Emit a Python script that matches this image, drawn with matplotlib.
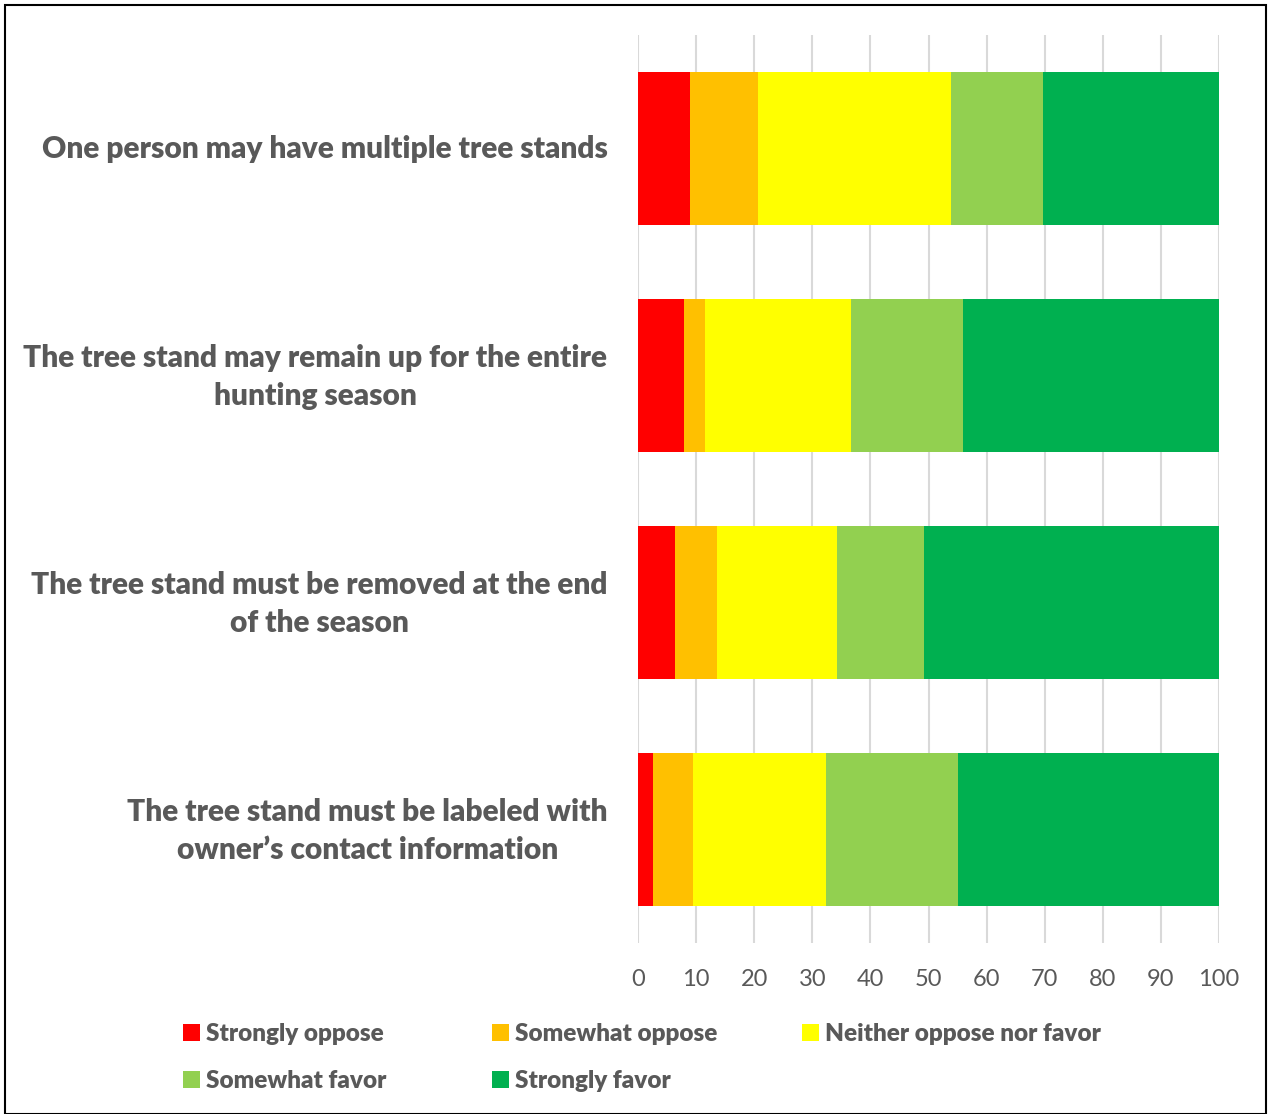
import matplotlib.pyplot as plt
import matplotlib.transforms as mtransforms
import numpy as np
from matplotlib.patches import Rectangle

# Datos (porcentajes)
preguntas = [
    "One person may have multiple tree stands",
    "The tree stand may remain up for the entire\nhunting season",
    "The tree stand must be removed at the end\nof the season",
    "The tree stand must be labeled with\nowner\u2019s contact information",
]
categorias = ["Strongly oppose", "Somewhat oppose", "Neither oppose nor favor",
              "Somewhat favor", "Strongly favor"]
strongly_oppose = [9.0, 8.0, 6.3, 2.6]
somewhat_oppose = [11.6, 3.6, 7.3, 6.8]
neither = [33.2, 25.1, 20.7, 22.9]
somewhat_favor = [15.9, 19.2, 14.9, 22.8]
strongly_favor = [30.3, 44.1, 50.8, 44.9]
colores = ["#FF0000", "#FFC000", "#FFFF00", "#92D050", "#00B050"]

gris = "#595959"
plt.rcParams['font.family'] = ['Lato', 'DejaVu Sans']

W, H = 1268, 1114
fig = plt.figure(figsize=(W / 100, H / 100), dpi=100)
ax = fig.add_axes([638 / W, 1 - 943 / H, 581 / W, 908 / H])

series = [strongly_oppose, somewhat_oppose, neither, somewhat_favor, strongly_favor]
y = np.arange(len(preguntas))
izq = np.zeros(len(preguntas))
for vals, col, nom in zip(series, colores, categorias):
    ax.barh(y, vals, left=izq, height=0.67, color=col, label=nom, zorder=3)
    izq = izq + np.array(vals)

ax.set_xlim(0, 100)
ax.set_ylim(len(preguntas) - 0.5, -0.5)
ax.set_xticks(range(0, 101, 10))
ax.set_yticks(y)
ax.set_yticklabels(preguntas, fontsize=21.5, fontweight='heavy', color=gris,
                   multialignment='center', linespacing=1.45)
ax.tick_params(axis='y', length=0, pad=22)
ax.tick_params(axis='x', length=0, pad=19, labelsize=17, labelcolor=gris)
ax.grid(axis='x', color="#D9D9D9", linewidth=1.5, zorder=0)
for s in ax.spines.values():
    s.set_visible(False)

# pequeño ajuste vertical de las etiquetas
for lab in ax.get_yticklabels():
    dy = 0.06 if "\n" in lab.get_text() else 0.02
    lab.set_transform(lab.get_transform() + mtransforms.ScaledTranslation(0, dy, fig.dpi_scale_trans))

# leyenda: cada entrada en su sitio (3 columnas de igual ancho)
handles, labels = ax.get_legend_handles_labels()
pos_x = [183, 492, 802, 183, 492]
pos_y = [1034, 1034, 1034, 1081, 1081]
for h, l, px, py in zip(handles, labels, pos_x, pos_y):
    leg = fig.legend([h], [l], loc='center left', bbox_to_anchor=(px / W, 1 - py / H),
                     frameon=False, handlelength=0.7, handleheight=0.7,
                     handletextpad=0.25, borderpad=0, borderaxespad=0,
                     prop={'weight': 'heavy', 'size': 17.5})
    for t in leg.get_texts():
        t.set_color(gris)

fig.patches.append(Rectangle((5 / W, 0), 1261 / W, 1 - 5 / H, transform=fig.transFigure,
                             fill=False, edgecolor='black', linewidth=1.5))

fig.savefig("out.png", dpi=100)
